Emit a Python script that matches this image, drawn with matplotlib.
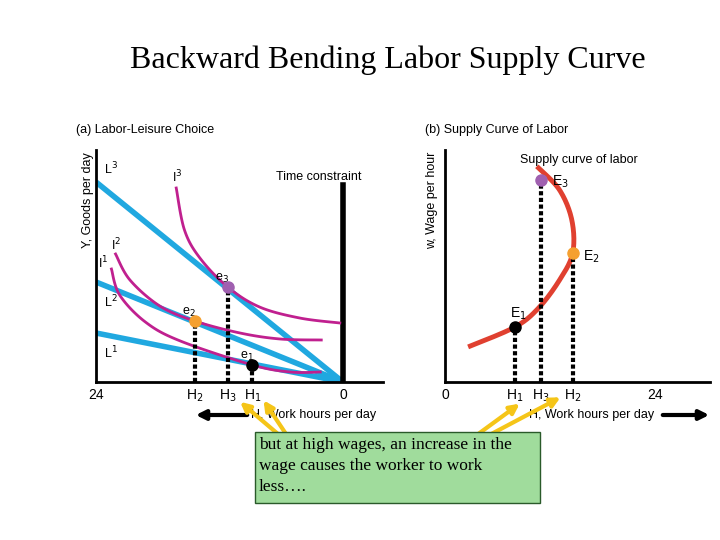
import numpy as np
import matplotlib.pyplot as plt
from matplotlib.patches import Rectangle

# ---- data ----
wages_left = [20/24, 10/24, 4.9/24]          # L3, L2, L1 slopes
budget_labels = ["L$^3$", "L$^2$", "L$^1$"]
I3_x = [7.8, 8.6, 10.1, 12.8, 15.9, 19.8, 23.7]; I3_y = [19.4, 15.2, 12.4, 9.5, 7.5, 6.4, 5.9]
I2_x = [1.9, 3.3, 6.2, 9.6, 14.0, 17.9, 21.9]; I2_y = [12.8, 10.2, 7.6, 6.1, 4.9, 4.3, 4.2]
I1_x = [1.5, 2.3, 4.8, 8.2, 15.2, 18.9, 21.8]; I1_y = [11.3, 8.7, 6.0, 4.1, 1.7, 1.0, 1.0]
eq_x = [15.2, 9.6, 12.8]; eq_y = [1.7, 6.1, 9.5]   # e1 e2 e3
eq_col = ["black", "#f5a030", "#a060b0"]
sup_x = [2.9, 8.0, 10.7, 13.1, 14.6, 14.5, 13.1, 10.7]
sup_y = [3.6, 5.5, 7.4, 10.2, 12.9, 16.2, 19.2, 21.4]
E_x = [8.0, 14.6, 11.0]; E_y = [5.5, 12.9, 20.2]

def smooth(x, y, n=20):
    P = np.column_stack([x, y]).astype(float)
    P = np.vstack([P[0], P, P[-1]])
    out = []
    for i in range(1, len(P) - 2):
        p0, p1, p2, p3 = P[i-1], P[i], P[i+1], P[i+2]
        for t in np.linspace(0, 1, n, endpoint=False):
            out.append(0.5*((2*p1)+(-p0+p2)*t+(2*p0-5*p1+4*p2-p3)*t**2+(-p0+3*p1-3*p2+p3)*t**3))
    out.append(P[-2])
    a = np.array(out)
    return a[:, 0], a[:, 1]

fig = plt.figure(figsize=(7.2, 5.4), dpi=100)
sans = "Liberation Sans"; serif = "Liberation Serif"
blue = "#20a8e0"; mag = "#c0208f"; red = "#e04030"

fig.text(388/720, 1-60/540, "Backward Bending Labor Supply Curve", family=serif, fontsize=23, ha="center", va="center")
fig.text(76/720, 1-130/540, "(a) Labor-Leisure Choice", family=sans, fontsize=9, va="center")
fig.text(425/720, 1-130/540, "(b) Supply Curve of Labor", family=sans, fontsize=9, va="center")

# left panel
ax = fig.add_axes([96/720, 158/540, 287/720, 232/540])
ax.set_xlim(0, 27.9); ax.set_ylim(0, 23.2)
for s in ["top", "right"]: ax.spines[s].set_visible(False)
ax.spines["left"].set_linewidth(2); ax.spines["bottom"].set_linewidth(2)
ax.set_xticks([]); ax.set_yticks([])
xs = np.array([0, 24])
for w, lab in zip(wages_left, budget_labels):
    ax.plot(xs, w*(24-xs), color=blue, lw=4, solid_capstyle="butt")
    ax.text(0.8, w*24 + (0.8 if w > 0.5 else -2.5), lab, family=sans, fontsize=9)
ax.plot([24, 24], [0, 19.7], color="black", lw=4)
ax.text(17.5, 20.2, "Time constraint", family=sans, fontsize=9)
for X, Y, lab, lx, ly in [(I3_x, I3_y, "I$^3$", 7.4, 20.0), (I2_x, I2_y, "I$^2$", 1.5, 13.2), (I1_x, I1_y, "I$^1$", 0.2, 11.4)]:
    sx, sy = smooth(X, Y)
    ax.plot(sx, sy, color=mag, lw=2)
    ax.text(lx, ly, lab, family=sans, fontsize=9)
for x, y, c, lab in zip(eq_x, eq_y, eq_col, ["e$_1$", "e$_2$", "e$_3$"]):
    ax.plot([x, x], [0, y], color="black", lw=3, ls=(0, (1, 0.6)))
    ax.plot(x, y, "o", color=c, ms=8, zorder=5)
    ax.text(x - 1.2, y + 0.6, lab, family=sans, fontsize=9)
ax.text(0, -1.3, "24", family=sans, fontsize=10, ha="center", va="center", clip_on=False)
ax.text(24, -1.3, "0", family=sans, fontsize=10, ha="center", va="center", clip_on=False)
for x, lab in [(9.6, "H$_2$"), (12.8, "H$_3$"), (15.2, "H$_1$")]:
    ax.text(x, -1.4, lab, family=sans, fontsize=10, ha="center", va="center", clip_on=False)
ax.text(15.1, -3.3, "H, Work hours per day", family=sans, fontsize=9, va="center", clip_on=False)
fig.text(88/720, 1-200/540, "Y, Goods per day", family=sans, fontsize=9, rotation=90, ha="center", va="center")

# right panel
bx = fig.add_axes([445/720, 158/540, 265/720, 232/540])
bx.set_xlim(0, 30.3); bx.set_ylim(0, 23.2)
for s in ["top", "right"]: bx.spines[s].set_visible(False)
bx.spines["left"].set_linewidth(2); bx.spines["bottom"].set_linewidth(2)
bx.set_xticks([]); bx.set_yticks([])
sx, sy = smooth(sup_x, sup_y)
bx.plot(sx, sy, color=red, lw=3.5)
for x, y, c, lab, dx, dy in zip(E_x, E_y, eq_col, ["E$_1$", "E$_2$", "E$_3$"], [-0.6, 1.2, 1.2], [0.9, -0.8, -0.6]):
    bx.plot([x, x], [0, y], color="black", lw=3, ls=(0, (1, 0.6)))
    bx.plot(x, y, "o", color=c, ms=8, zorder=5)
    bx.text(x + dx, y + dy, lab, family=sans, fontsize=10)
bx.text(8.6, 21.9, "Supply curve of labor", family=sans, fontsize=9)
bx.text(0, -1.3, "0", family=sans, fontsize=10, ha="center", va="center", clip_on=False)
bx.text(24, -1.3, "24", family=sans, fontsize=10, ha="center", va="center", clip_on=False)
for x, lab in [(8.0, "H$_1$"), (11.0, "H$_3$"), (14.6, "H$_2$")]:
    bx.text(x, -1.4, lab, family=sans, fontsize=10, ha="center", va="center", clip_on=False)
bx.text(9.6, -3.3, "H, Work hours per day", family=sans, fontsize=9, va="center", clip_on=False)
fig.text(432/720, 1-200/540, "w, Wage per hour", family=sans, fontsize=9, rotation=90, ha="center", va="center")

# overlay arrows and box
ov = fig.add_axes([0, 0, 1, 1]); ov.set_xlim(0, 720); ov.set_ylim(540, 0); ov.axis("off")
ov.annotate("", xy=(193, 415), xytext=(250, 415), arrowprops=dict(arrowstyle="-|>", color="black", lw=3, mutation_scale=14))
ov.annotate("", xy=(712, 415), xytext=(660, 415), arrowprops=dict(arrowstyle="-|>", color="black", lw=3, mutation_scale=14))
for tx, ty, hx, hy in [(285, 440, 238, 400), (290, 440, 262, 398), (470, 440, 522, 402), (480, 440, 563, 396)]:
    ov.annotate("", xy=(hx, hy), xytext=(tx, ty), arrowprops=dict(arrowstyle="-|>", color="#f5c518", lw=3, mutation_scale=14))
ov.add_patch(Rectangle((255, 432), 285, 71, facecolor="#a0dc9c", edgecolor="#2a5a2a", lw=1, zorder=5))
ov.text(259, 437, "but at high wages, an increase in the\nwage causes the worker to work\nless….", family=serif, fontsize=12.5,
        va="top", ha="left", zorder=6, linespacing=1.4)

fig.savefig("out.png", dpi=100)
